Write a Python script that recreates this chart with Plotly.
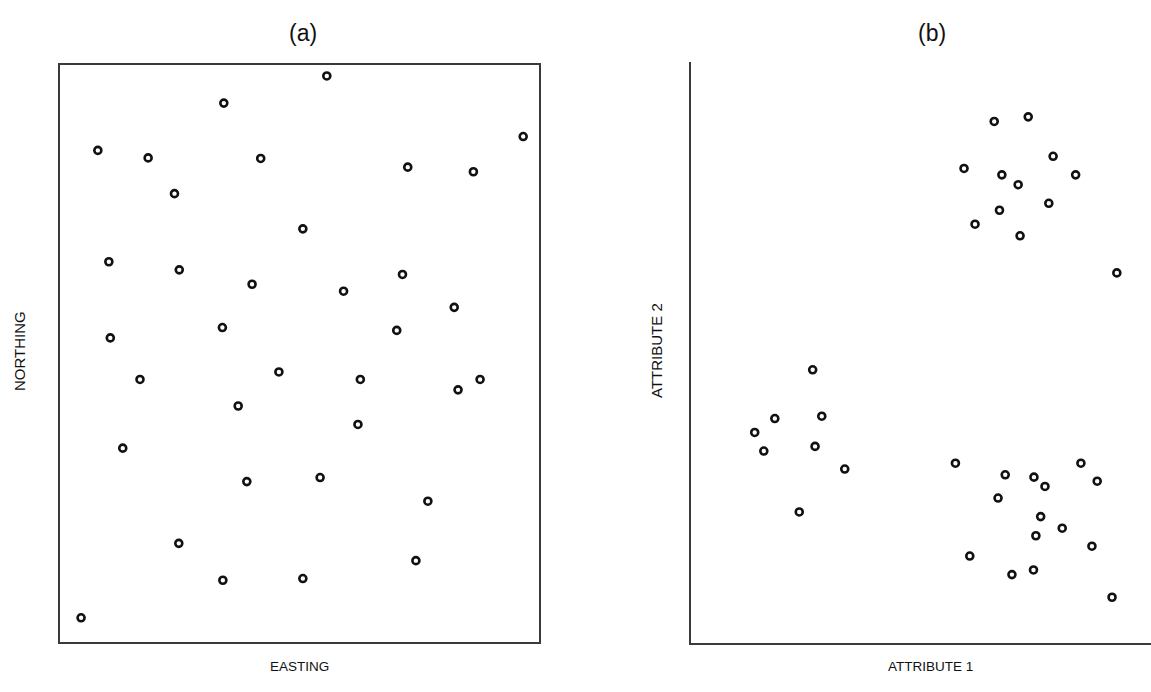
import plotly.graph_objects as go

# Panel (a): spatial locations
easting = [55.7, 34.2, 96.7, 7.9, 18.4, 41.9, 72.6, 86.3, 23.9, 50.7,
           10.2, 24.9, 40.1, 59.2, 71.5, 82.3, 33.9, 70.3, 10.5, 16.7,
           45.7, 62.7, 87.7, 83.1, 37.2, 62.2, 13.1, 39.0, 54.3, 76.8,
           24.8, 74.3, 34.0, 50.7, 4.4]
northing = [98.1, 93.4, 87.6, 85.2, 83.9, 83.8, 82.3, 81.5, 77.7, 71.6,
            65.9, 64.5, 62.0, 60.8, 63.7, 58.0, 54.5, 54.0, 52.7, 45.5,
            46.8, 45.5, 45.5, 43.7, 40.9, 37.7, 33.6, 27.8, 28.5, 24.4,
            17.1, 14.1, 10.7, 11.0, 4.2]

# Panel (b): attribute space
attr1 = [63.3, 70.4, 75.6, 57.0, 64.9, 68.3, 80.3, 74.7, 64.4, 59.3,
         68.7, 88.9, 25.4, 17.5, 27.3, 13.3, 15.2, 25.9, 32.1, 22.6,
         55.2, 65.6, 71.6, 73.9, 81.4, 84.8, 64.1, 73.0, 77.5, 72.0,
         83.7, 58.2, 67.0, 71.5, 87.9]
attr2 = [89.8, 90.6, 83.8, 81.7, 80.6, 78.9, 80.6, 75.7, 74.5, 72.1,
         70.1, 63.7, 47.0, 38.6, 39.0, 36.2, 33.0, 33.8, 29.9, 22.5,
         30.9, 28.9, 28.5, 26.9, 30.9, 27.8, 24.9, 21.7, 19.7, 18.4,
         16.6, 14.9, 11.7, 12.5, 7.8]

panel_titles = ["(a)", "(b)"]
x_titles = ["EASTING", "ATTRIBUTE 1"]
y_titles = ["NORTHING", "ATTRIBUTE 2"]

W, H = 1151, 692
FONT = "Liberation Sans, Arial, Helvetica, sans-serif"
LINE = "#3a3a3a"
TXT = "#111111"

marker = dict(symbol="circle", size=7, color="white",
              line=dict(color="#111111", width=2.6))

fig = go.Figure()
fig.add_trace(go.Scatter(x=easting, y=northing, mode="markers",
                         marker=marker, xaxis="x", yaxis="y",
                         showlegend=False, hoverinfo="skip"))
fig.add_trace(go.Scatter(x=attr1, y=attr2, mode="markers",
                         marker=marker, xaxis="x2", yaxis="y2",
                         showlegend=False, hoverinfo="skip"))

ax_common = dict(showgrid=False, zeroline=False, showticklabels=False,
                 ticks="", showline=True, linecolor=LINE, linewidth=1.6,
                 fixedrange=True)

xa_dom = [60 / W, 539 / W]
ya_dom = [(H - 642) / H, (H - 65) / H]
xb_dom = [691 / W, 1.0]
yb_dom = [(H - 642.5) / H, (H - 62.3) / H]
xb_range = [0, (W - 691) / 4.79]

fig.update_layout(
    width=W, height=H, autosize=False,
    margin=dict(l=0, r=0, t=0, b=0, pad=0),
    paper_bgcolor="white", plot_bgcolor="white",
    font=dict(family=FONT, color=TXT),
    xaxis=dict(ax_common, domain=xa_dom, range=[0, 100], anchor="y", mirror=True),
    yaxis=dict(ax_common, domain=ya_dom, range=[0, 100], anchor="x", mirror=True),
    xaxis2=dict(ax_common, domain=xb_dom, range=xb_range, anchor="y2", mirror=False),
    yaxis2=dict(ax_common, domain=yb_dom, range=[0, 100], anchor="x2", mirror=False),
    xaxis3=dict(ax_common, domain=xb_dom, range=xb_range, anchor="y2",
                overlaying="x2", side="top"),
)

annotations = []
centers_x = [303 / W, 932 / W]
xlab_x = [(60 + 539) / 2 / W, (691 + 1170) / 2 / W]
ylab_x = [19 / W, 656 / W]
for i in range(2):
    annotations.append(dict(text=panel_titles[i], x=centers_x[i], y=1 - 33 / H,
                            xref="paper", yref="paper", showarrow=False,
                            xanchor="center", yanchor="middle",
                            font=dict(size=23, family=FONT, color=TXT)))
    annotations.append(dict(text=x_titles[i], x=xlab_x[i], y=1 - 666 / H,
                            xref="paper", yref="paper", showarrow=False,
                            xanchor="center", yanchor="middle",
                            font=dict(size=13.5, family=FONT, color=TXT)))
    annotations.append(dict(text=y_titles[i], x=ylab_x[i], y=1 - 351 / H,
                            xref="paper", yref="paper", showarrow=False,
                            xanchor="center", yanchor="middle", textangle=-90,
                            font=dict(size=15, family=FONT, color=TXT)))
fig.update_layout(annotations=annotations)

fig.write_html("out.html", config={"displayModeBar": False})
